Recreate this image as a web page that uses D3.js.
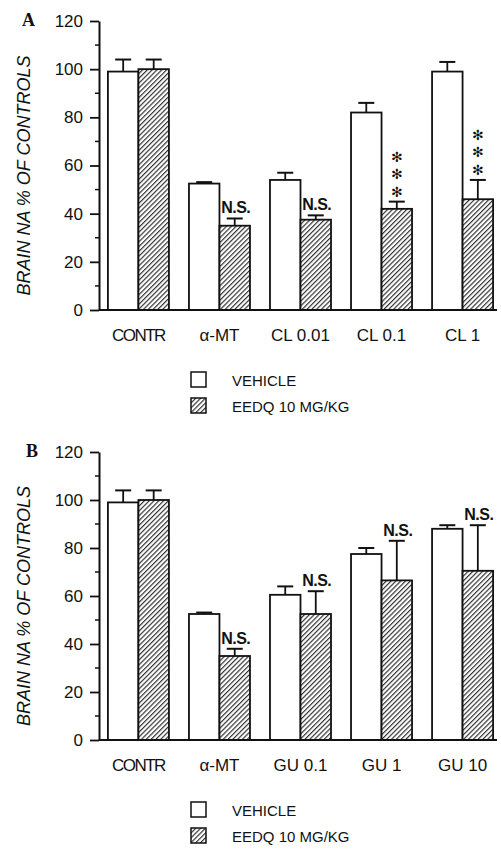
<!DOCTYPE html>
<html>
<head>
<meta charset="utf-8">
<script src="https://cdn.jsdelivr.net/npm/d3@7"></script>
<style>
  body { margin: 0; background: #fff; }
  text { font-family: "Liberation Sans", Arial, sans-serif; fill: #111; }
</style>
</head>
<body>
<div id="chart"></div>
<script>
// panel A data
var categoriesA = ["CONTR", "α-MT", "CL 0.01", "CL 0.1", "CL 1"];
var vehicleA = [99, 52.5, 54, 82, 99];
var vehicleErrA = [5, 0.6, 3, 4, 4];
var eedqA = [100, 35, 37.5, 42, 46];
var eedqErrA = [4, 3, 1.8, 3, 8];
var marksA = ["", "N.S.", "N.S.", "***", "***"];

// panel B data
var categoriesB = ["CONTR", "α-MT", "GU 0.1", "GU 1", "GU 10"];
var vehicleB = [99, 52.5, 60.5, 77.5, 88];
var vehicleErrB = [5, 0.6, 3.5, 2.5, 1.5];
var eedqB = [100, 35, 52.5, 66.5, 70.5];
var eedqErrB = [4, 3, 9.5, 16.5, 19];
var marksB = ["", "N.S.", "N.S.", "N.S.", "N.S."];

var yTicks = [0, 20, 40, 60, 80, 100, 120];
var yMinorTicks = [10, 30, 50, 70, 90, 110];
var legendLabels = ["VEHICLE", "EEDQ 10 MG/KG"];
var yTitle = "BRAIN NA % OF CONTROLS";

var width = 501, height = 849;

var svg = d3.select("#chart").append("svg")
    .attr("width", width)
    .attr("height", height);

// hatch pattern for the EEDQ bars
svg.append("defs").append("pattern")
    .attr("id", "hatch")
    .attr("patternUnits", "userSpaceOnUse")
    .attr("width", 3.4)
    .attr("height", 3.4)
    .attr("patternTransform", "rotate(45)")
    .call(function (p) {
        p.append("rect").attr("width", 3.4).attr("height", 3.4).attr("fill", "#fff");
        p.append("line")
            .attr("x1", 0.6).attr("y1", 0).attr("x2", 0.6).attr("y2", 3.4)
            .attr("stroke", "#222").attr("stroke-width", 1.1);
    });

drawPanel(21, 310, "A", categoriesA, vehicleA, vehicleErrA, eedqA, eedqErrA, marksA);
drawPanel(452, 740, "B", categoriesB, vehicleB, vehicleErrB, eedqB, eedqErrB, marksB);

function drawPanel(top, bottom, letter, cats, veh, vehErr, eedq, eedqErr, marks) {
    var g = svg.append("g");

    var x = d3.scaleBand()
        .domain(cats)
        .range([99, 502])
        .paddingInner(0.247)
        .paddingOuter(0.11);

    var y = d3.scaleLinear()
        .domain([0, 120])
        .range([bottom, top]);

    var bw = x.bandwidth() / 2;

    // minor ticks
    g.selectAll(".minor")
        .data(yMinorTicks)
        .enter().append("line")
        .attr("x1", 95).attr("x2", 99)
        .attr("y1", d => y(d)).attr("y2", d => y(d))
        .attr("stroke", "#111").attr("stroke-width", 1.5);

    // y axis with major ticks
    var yAxis = d3.axisLeft(y)
        .tickValues(yTicks)
        .tickSize(9)
        .tickPadding(7)
        .tickSizeOuter(0);

    var ax = g.append("g")
        .attr("transform", "translate(99,0)")
        .call(yAxis);
    ax.select(".domain").attr("stroke", "#111").attr("stroke-width", 2);
    ax.selectAll(".tick line").attr("stroke", "#111").attr("stroke-width", 1.8);
    ax.selectAll(".tick text")
        .attr("font-size", 17)
        .attr("font-family", "Liberation Sans, Arial, sans-serif")
        .attr("fill", "#111");

    // category labels
    g.selectAll(".cat")
        .data(cats)
        .enter().append("text")
        .attr("x", d => x(d) + x.bandwidth() / 2)
        .attr("y", bottom + 31)
        .attr("text-anchor", "middle")
        .attr("font-size", 17)
        .attr("letter-spacing", d => d === "CONTR" ? "-1.5px" : null)
        .text(d => d);

    // vehicle bars
    g.selectAll(".veh")
        .data(cats)
        .enter().append("rect")
        .attr("x", d => x(d))
        .attr("y", (d, i) => y(veh[i]))
        .attr("width", bw)
        .attr("height", (d, i) => y(0) - y(veh[i]))
        .attr("fill", "#fff")
        .attr("stroke", "#111")
        .attr("stroke-width", 1.8);

    // EEDQ bars
    g.selectAll(".eedq")
        .data(cats)
        .enter().append("rect")
        .attr("x", d => x(d) + bw)
        .attr("y", (d, i) => y(eedq[i]))
        .attr("width", bw)
        .attr("height", (d, i) => y(0) - y(eedq[i]))
        .attr("fill", "url(#hatch)")
        .attr("stroke", "#111")
        .attr("stroke-width", 1.8);

    // error bars (upper only)
    var errs = [];
    cats.forEach(function (c, i) {
        errs.push({ cx: x(c) + bw / 2, v: veh[i], e: vehErr[i] });
        errs.push({ cx: x(c) + bw * 1.5, v: eedq[i], e: eedqErr[i] });
    });
    var eg = g.selectAll(".err").data(errs).enter().append("g");
    eg.append("line")
        .attr("x1", d => d.cx).attr("x2", d => d.cx)
        .attr("y1", d => y(d.v)).attr("y2", d => y(d.v + d.e))
        .attr("stroke", "#111").attr("stroke-width", 1.8);
    eg.append("line")
        .attr("x1", d => d.cx - 8).attr("x2", d => d.cx + 8)
        .attr("y1", d => y(d.v + d.e)).attr("y2", d => y(d.v + d.e))
        .attr("stroke", "#111").attr("stroke-width", 2);

    // x axis line drawn last so it sits on the bars
    g.append("line")
        .attr("x1", 99).attr("x2", 497)
        .attr("y1", y(0)).attr("y2", y(0))
        .attr("stroke", "#111").attr("stroke-width", 2);

    // significance marks above the EEDQ bars
    cats.forEach(function (c, i) {
        var cx = x(c) + bw * 1.5;
        var capY = y(eedq[i] + eedqErr[i]);
        if (marks[i] === "N.S.") {
            g.append("text")
                .attr("x", cx + 1)
                .attr("y", capY - 5)
                .attr("text-anchor", "middle")
                .attr("font-size", 16)
                .attr("font-weight", "bold")
                .attr("letter-spacing", "-0.5px")
                .text("N.S.");
        } else if (marks[i] === "***") {
            // stacked asterisks, small line box so they do not collide
            for (var k = 0; k < 3; k++) {
                g.append("text")
                    .attr("x", cx)
                    .attr("y", capY - 10 - (2 - k) * 17.5 + 5)
                    .attr("text-anchor", "middle")
                    .attr("font-size", 14)
                    .style("font-family", "DejaVu Sans, sans-serif")
                    .text("✻");
            }
        }
    });

    // panel letter
    g.append("text")
        .attr("x", letter === "A" ? 22 : 26)
        .attr("y", top + 5)
        .attr("font-size", 18)
        .attr("font-weight", "bold")
        .style("font-family", "Liberation Serif, Times New Roman, serif")
        .text(letter);

    // y axis title
    g.append("text")
        .attr("transform", "translate(30," + ((top + bottom) / 2 + 10) + ") rotate(-90)")
        .attr("text-anchor", "middle")
        .attr("font-size", 18)
        .attr("font-style", "italic")
        .text(yTitle);

    // legend
    var lg = g.append("g").attr("transform", "translate(0," + (bottom + 62) + ")");
    lg.selectAll("rect")
        .data(legendLabels)
        .enter().append("rect")
        .attr("x", 191)
        .attr("y", (d, i) => i * 26)
        .attr("width", 15)
        .attr("height", 15)
        .attr("fill", (d, i) => i === 0 ? "#fff" : "url(#hatch)")
        .attr("stroke", "#111")
        .attr("stroke-width", 1.5);
    lg.selectAll("text")
        .data(legendLabels)
        .enter().append("text")
        .attr("x", 232)
        .attr("y", (d, i) => i * 26 + 14)
        .attr("font-size", 15)
        .text(d => d);
}
</script>
</body>
</html>
